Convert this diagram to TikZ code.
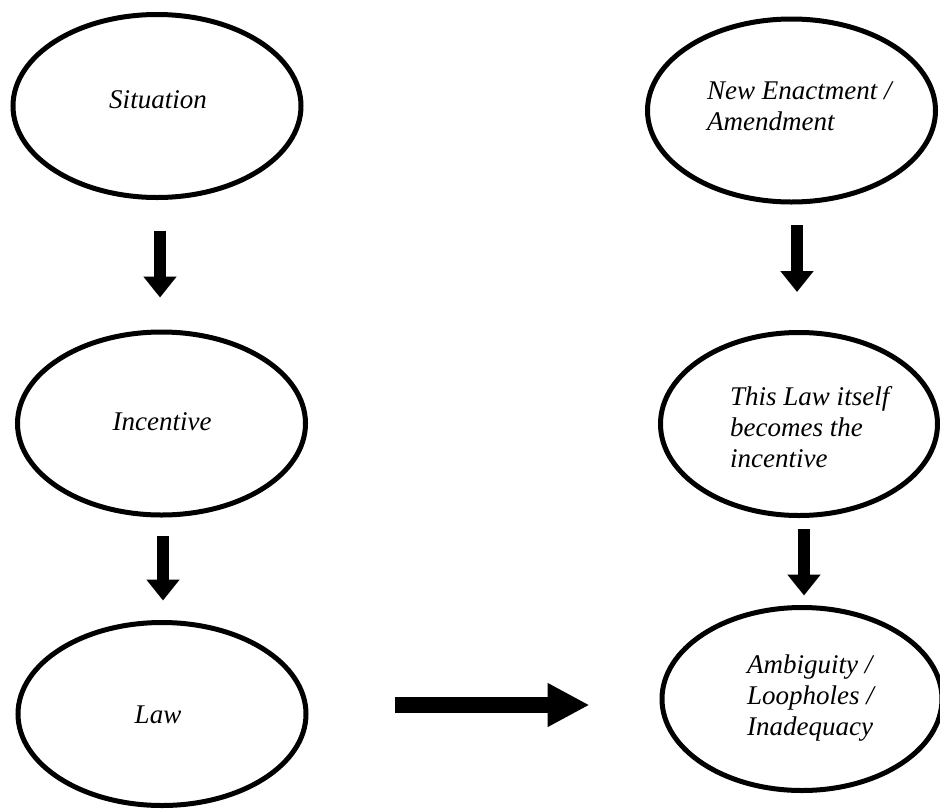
\documentclass[tikz,border=0pt]{standalone}
\usepackage{fontspec}
\setmainfont{Liberation Serif}
\usetikzlibrary{shapes.geometric,arrows.meta}
\tikzset{
  oval/.style={draw=black, line width=5pt, ellipse, minimum width=288pt, minimum height=183pt, inner sep=0pt},
  lbl/.style={font=\fontsize{27}{31}\selectfont\itshape, inner sep=0pt, align=left},
  blockarrow/.style={line width=12pt, -{Triangle[width=32pt,length=21pt]}},
  bigarrow/.style={line width=16pt, -{Triangle[width=41pt,length=42pt]}}
}
\begin{document}
\begin{tikzpicture}[x=1pt,y=-1pt]
\useasboundingbox (0,0) rectangle (940,809);
\clip (0,0) rectangle (940,809);
% ellipses
\node[oval] (sit) at (157,106) {};
\node[oval] (inc) at (161.5,423.5) {};
\node[oval] (law) at (162,714) {};
\node[oval] (ne)  at (791.5,110.5) {};
\node[oval, minimum width=277pt] (tl) at (799,424) {};
\node[oval, minimum width=280pt] (amb) at (802,699) {};
% labels (base anchor = baseline of last line)
\node[lbl, anchor=base] (sitt) at (158,108) {Situation};
\node[lbl, anchor=base] (inct) at (162,430) {Incentive};
\node[lbl, anchor=base] (lawt) at (158,723) {Law};
\node[lbl, anchor=base west] (net) at (707,130) {New Enactment /\\Amendment};
\node[lbl, anchor=base west] (tlt) at (730,467) {This Law itself\\becomes the\\incentive};
\node[lbl, anchor=base west] (ambt) at (747,735) {Ambiguity /\\Loopholes /\\Inadequacy};
% arrows
\draw[blockarrow] ([xshift=3pt,yshift=-30.5pt]sit.south) -- ([xshift=-1.5pt,yshift=32pt]inc.north);
\draw[blockarrow] ([xshift=1.5pt,yshift=-18pt]inc.south) -- ([xshift=1pt,yshift=19.5pt]law.north);
\draw[blockarrow] ([xshift=5.5pt,yshift=-20.5pt]ne.south) -- ([xshift=-2pt,yshift=38pt]tl.north);
\draw[blockarrow] ([xshift=5pt,yshift=-11pt]tl.south) -- ([xshift=2pt,yshift=9.5pt]amb.north);
\draw[bigarrow] ([xshift=86pt,yshift=9pt]law.east) -- ([xshift=-70pt,yshift=-6pt]amb.west);
\end{tikzpicture}
\end{document}
